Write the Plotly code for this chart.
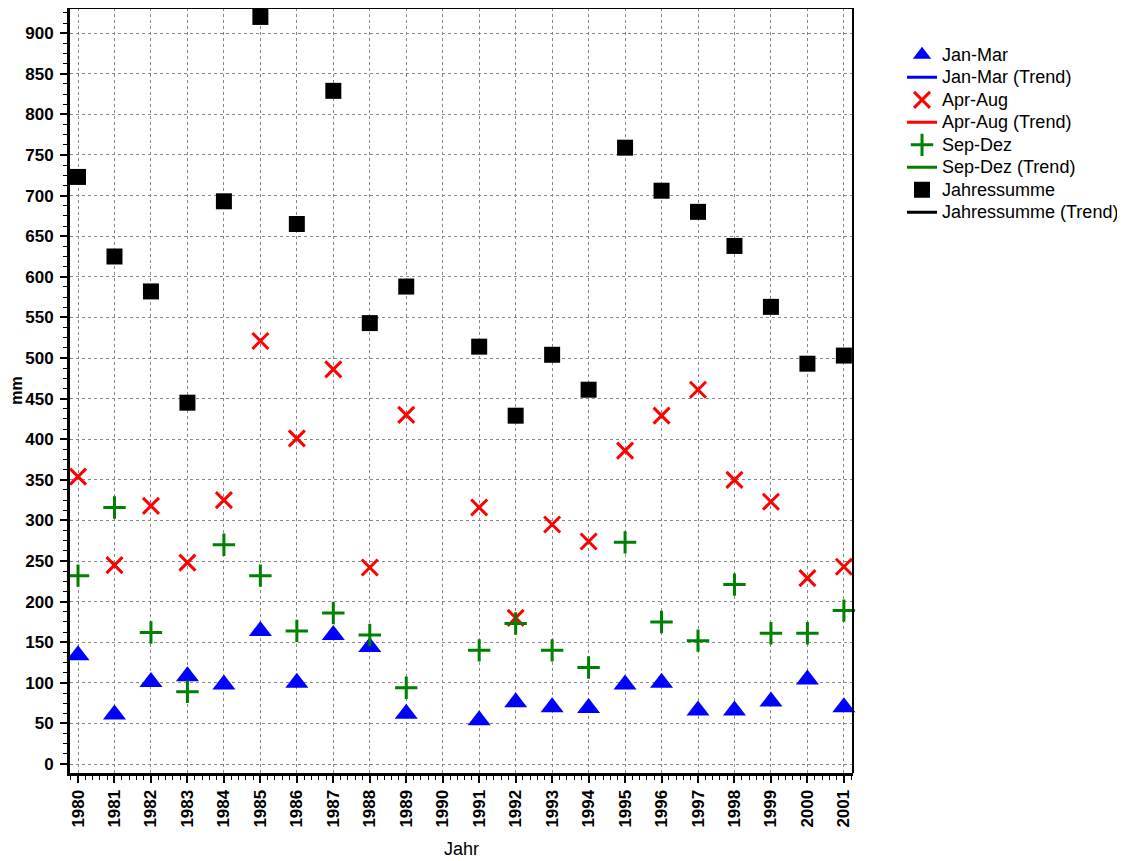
import plotly.graph_objects as go

years = [1980, 1981, 1982, 1983, 1984, 1985, 1986, 1987, 1988, 1989,
         1991, 1992, 1993, 1994, 1995, 1996, 1997, 1998, 1999, 2000, 2001]
jan_mar = [134, 61, 101, 108, 98, 164, 100, 159, 144, 62,
           54, 76, 70, 69, 98, 100, 66, 66, 77, 104, 70]
apr_aug = [354, 245, 318, 248, 325, 521, 401, 486, 242, 430,
           316, 180, 295, 274, 386, 429, 461, 350, 323, 229, 243]
sep_dez = [232, 316, 162, 89, 270, 232, 164, 186, 159, 94,
           140, 173, 140, 119, 273, 175, 152, 221, 161, 161, 189]
jahressumme = [723, 625, 582, 445, 693, 920, 665, 829, 543, 588,
               514, 429, 504, 461, 759, 706, 680, 638, 563, 493, 503]
tick_years = list(range(1980, 2002))

FONT = "Liberation Sans, Arial, sans-serif"

fig = go.Figure()

def legend_label(text):
    return "<span style='font-size:18px'>" + text + "</span>"

def add_pair(name, y, color, symbol, size, lw):
    fig.add_trace(go.Scatter(
        x=years, y=y, mode="markers", name=legend_label(name),
        marker=dict(symbol=symbol, size=size, color=color,
                    line=dict(color=color, width=lw)),
        cliponaxis=False))
    fig.add_trace(go.Scatter(
        x=[None], y=[None], mode="lines", name=legend_label(name + " (Trend)"),
        line=dict(color=color, width=3)))

add_pair("Jan-Mar", jan_mar, "#0000ff", "triangle-up", 20, 0)
add_pair("Apr-Aug", apr_aug, "#ff0000", "x-thin-open", 16, 3)
add_pair("Sep-Dez", sep_dez, "#008000", "cross-thin-open", 16, 3)
add_pair("Jahressumme", jahressumme, "#000000", "square", 16, 0)

# the page body adds an 8px offset; the figure is sized to compensate
fig.update_layout(
    width=1117, height=853,
    margin=dict(l=62, r=272, t=0, b=88, autoexpand=False),
    paper_bgcolor="white", plot_bgcolor="white",
    font=dict(family=FONT, size=14, color="black"),
    showlegend=True,
    legend=dict(x=1.0626, y=0.960, xanchor="left", yanchor="top",
                font=dict(family=FONT, size=15, color="black"),
                tracegroupgap=0, bgcolor="rgba(0,0,0,0)"),
    xaxis=dict(
        range=[1979.78, 2001.25], tickmode="array", tickvals=tick_years,
        ticktext=[str(v) for v in tick_years], tickangle=-90,
        tickfont=dict(family=FONT, size=17, color="black", weight="bold"),
        showline=True, linecolor="black", linewidth=3, mirror=False,
        ticks="outside", ticklen=7, tickwidth=1.5, tickcolor="black",
        showgrid=True, gridcolor="#888888", griddash="dot", gridwidth=1,
        zeroline=False, automargin=False,
        minor=dict(dtick=0.2, tick0=1980, ticks="outside", ticklen=4,
                   tickwidth=1, tickcolor="black", showgrid=False),
        title=dict(text="Jahr", font=dict(family=FONT, size=18, color="black"),
                   standoff=16),
    ),
    yaxis=dict(
        range=[-11, 931], tickmode="linear", tick0=0, dtick=50,
        tickfont=dict(family=FONT, size=17, color="black", weight="bold"),
        showline=True, linecolor="black", linewidth=3, mirror=False,
        ticks="outside", ticklen=7, tickwidth=1.5, tickcolor="black",
        ticklabelstandoff=3,
        showgrid=True, gridcolor="#888888", griddash="dot", gridwidth=1,
        zeroline=False, automargin=False,
        minor=dict(dtick=12.5, tick0=0, ticks="outside", ticklen=4,
                   tickwidth=1, tickcolor="black", showgrid=False),
        title=dict(text="mm", font=dict(family=FONT, size=16, color="black",
                                        weight="bold"), standoff=14),
    ),
)

# thinner top and right frame lines
fig.add_shape(type="line", xref="paper", yref="paper", x0=0, x1=1, y0=1, y1=1,
              line=dict(color="black", width=2))
fig.add_shape(type="line", xref="paper", yref="paper", x0=1, x1=1, y0=0, y1=1,
              line=dict(color="black", width=2))

fig.write_html("out.html")
